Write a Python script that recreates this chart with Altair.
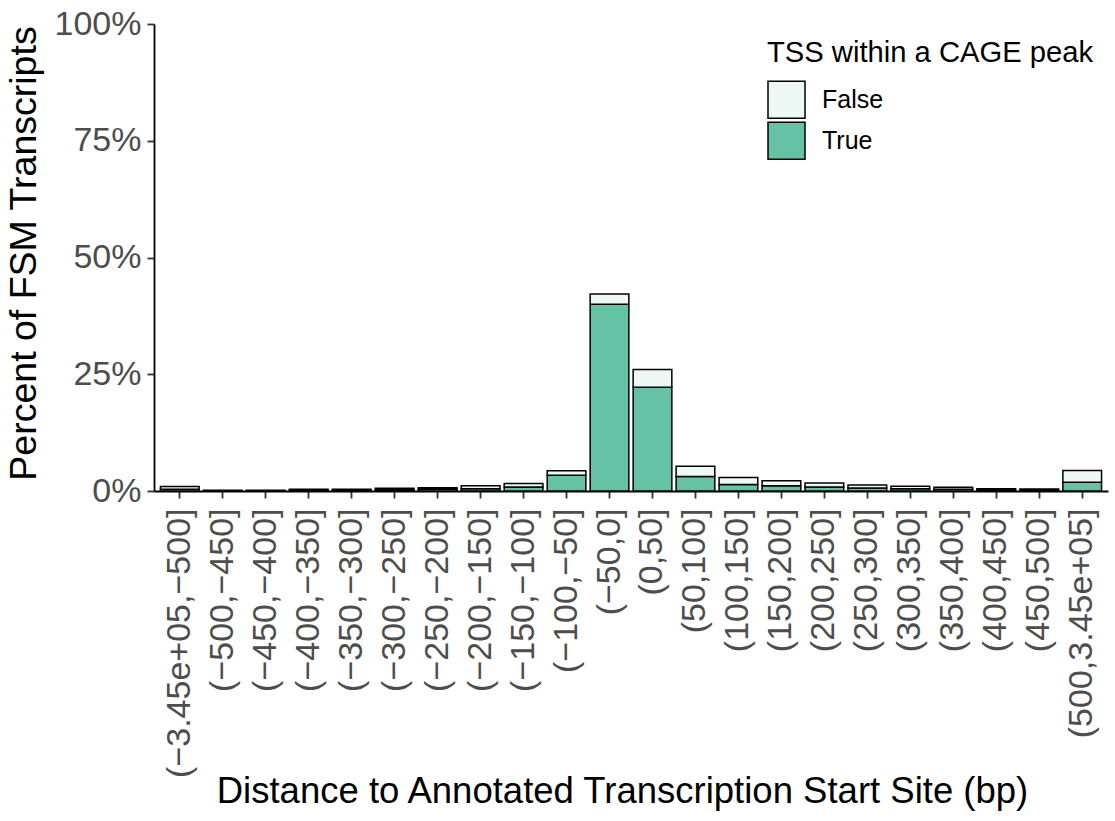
import altair as alt
import pandas as pd

categories = [
    "(−3.45e+05,−500]", "(−500,−450]", "(−450,−400]", "(−400,−350]",
    "(−350,−300]", "(−300,−250]", "(−250,−200]", "(−200,−150]",
    "(−150,−100]", "(−100,−50]", "(−50,0]", "(0,50]", "(50,100]",
    "(100,150]", "(150,200]", "(200,250]", "(250,300]", "(300,350]",
    "(350,400]", "(400,450]", "(450,500]", "(500,3.45e+05]",
]
true_pct = [0.35, 0.05, 0.05, 0.15, 0.15, 0.3, 0.35, 0.5, 0.85, 3.35, 40.0,
            22.2, 3.1, 1.4, 1.1, 0.85, 0.64, 0.5, 0.4, 0.25, 0.2, 1.9]
false_pct = [0.6, 0.1, 0.1, 0.2, 0.2, 0.3, 0.35, 0.65, 0.75, 1.0, 2.2,
             3.8, 2.2, 1.5, 1.1, 0.85, 0.66, 0.5, 0.4, 0.25, 0.25, 2.5]
groups = ["False", "True"]
colors = ["#EEF8F4", "#66C2A5"]
y_ticks = [0, 0.25, 0.5, 0.75, 1.0]

rows = []
for c, t, f in zip(categories, true_pct, false_pct):
    rows.append({"bin": c, "cage": "True", "frac": t / 100, "ord": 0})
    rows.append({"bin": c, "cage": "False", "frac": f / 100, "ord": 1})
df = pd.DataFrame(rows)

FONT = "Liberation Sans"

chart = alt.Chart(df).mark_bar(stroke="black", strokeWidth=1.5).encode(
    x=alt.X("bin:N", sort=categories,
            scale=alt.Scale(paddingInner=0.1, paddingOuter=0.15),
            axis=alt.Axis(title="Distance to Annotated Transcription Start Site (bp)",
                          labelAngle=270, labelFontSize=34, labelColor="#4D4D4D",
                          labelPadding=10, labelLimit=500, tickSize=7, tickColor="#333333", tickWidth=1.8,
                          domainColor="black", domainWidth=1.8,
                          titleFontSize=36.5, titleFontWeight="normal", titleColor="black",
                          titleBaseline="alphabetic", titleY=311, titleX=468, titleAlign="center",
                          titleLimit=1000, labelFont=FONT, titleFont=FONT)),
    y=alt.Y("frac:Q", stack="zero",
            scale=alt.Scale(domain=[0, 1], nice=False, zero=True),
            axis=alt.Axis(title="Percent of FSM Transcripts", format=".0%", values=y_ticks,
                          labelFontSize=34, labelColor="#4D4D4D", labelPadding=6,
                          tickSize=7, tickColor="#333333", tickWidth=1.8,
                          domainColor="black", domainWidth=1.8, grid=False,
                          titleFontSize=37.5, titleFontWeight="normal", titleColor="black",
                          titleBaseline="alphabetic", titleX=-119, titleY=229, titleAlign="center",
                          titleLimit=1000, labelFont=FONT, titleFont=FONT)),
    color=alt.Color("cage:N", scale=alt.Scale(domain=groups, range=colors),
                    legend=alt.Legend(title="TSS within a CAGE peak", orient="none",
                                      legendX=613, legendY=15, padding=0,
                                      titleFontSize=29.2, titleFontWeight="normal", titleColor="black",
                                      titlePadding=12, titleFont=FONT, titleLimit=1000,
                                      labelFontSize=25, labelColor="black", labelFont=FONT,
                                      labelOffset=16, symbolType="square", symbolSize=1369,
                                      symbolStrokeColor="black", symbolStrokeWidth=1.5,
                                      rowPadding=-12)),
    order=alt.Order("ord:Q"),
).properties(
    width=954, height=467,
    autosize=alt.AutoSizeParams(type="none"),
    padding={"left": 154, "top": 24, "right": 7, "bottom": 330},
).configure_view(stroke=None).configure_axis(grid=False)

chart.save("out.html", embed_options={"renderer": "svg", "actions": False})
